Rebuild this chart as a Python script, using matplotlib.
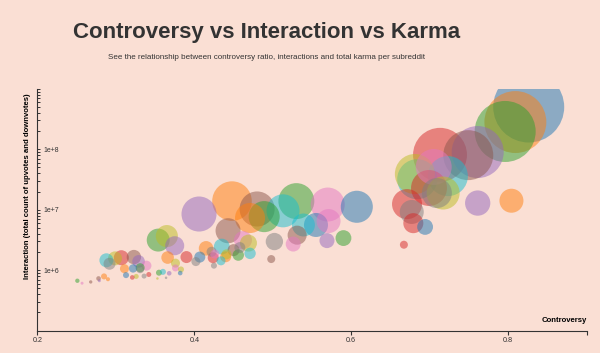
import matplotlib
matplotlib.use("Agg")
import matplotlib.pyplot as plt
from matplotlib.ticker import FixedLocator, FuncFormatter
import numpy as np

plt.rcParams['font.family'] = ['Liberation Sans', 'DejaVu Sans']

# 每个气泡: 争议比例, 互动数, karma(百万), 颜色分组
controversy = [0.826, 0.809, 0.796, 0.761, 0.749, 0.713, 0.705, 0.681, 0.684, 0.723,
               0.699, 0.709, 0.717, 0.761, 0.804, 0.671, 0.677, 0.679, 0.694, 0.667,
               0.607, 0.530, 0.570, 0.513, 0.489, 0.539, 0.555, 0.571, 0.531, 0.526,
               0.502, 0.569, 0.590, 0.498, 0.406, 0.448, 0.480, 0.471, 0.443, 0.462,
               0.469, 0.435, 0.415, 0.422, 0.407, 0.402, 0.390, 0.424, 0.425, 0.434,
               0.440, 0.441, 0.456, 0.450, 0.458, 0.471, 0.426,
               0.354, 0.365, 0.375, 0.366, 0.288, 0.292, 0.299, 0.307, 0.323, 0.329,
               0.339, 0.311, 0.322, 0.331, 0.331, 0.313, 0.326, 0.321, 0.336, 0.342,
               0.251, 0.257, 0.268, 0.278, 0.279, 0.285, 0.290, 0.355, 0.360, 0.353,
               0.364, 0.368, 0.376, 0.383, 0.382, 0.376]
interaction = [5.0e8, 2.82e8, 1.97e8, 9.0e7, 8.0e7, 8.1e7, 5.1e7, 3.9e7, 3.2e7, 3.6e7,
               2.29e7, 1.89e7, 1.89e7, 1.29e7, 1.41e7, 1.24e7, 9.2e6, 6.0e6, 5.2e6, 2.64e6,
               1.12e7, 1.39e7, 1.22e7, 9.6e6, 7.7e6, 5.6e6, 5.6e6, 6.5e6, 3.8e6, 2.71e6,
               2.98e6, 3.09e6, 3.4e6, 1.53e6, 8.5e6, 1.39e7, 1.03e7, 7.3e6, 4.5e6, 3.15e6,
               2.81e6, 2.46e6, 2.30e6, 2.02e6, 1.65e6, 1.39e6, 1.65e6, 1.61e6, 1.19e6, 1.43e6,
               1.67e6, 1.83e6, 1.78e6, 2.15e6, 2.37e6, 1.9e6, 1.85e6,
               3.15e6, 3.67e6, 2.54e6, 1.62e6, 1.46e6, 1.28e6, 1.57e6, 1.61e6, 1.65e6, 1.40e6,
               1.19e6, 1.06e6, 1.07e6, 1.10e6, 1.04e6, 8.3e5, 7.9e5, 7.6e5, 8.0e5, 8.5e5,
               6.7e5, 6.1e5, 6.4e5, 7.3e5, 6.7e5, 7.9e5, 7.1e5, 9.1e5, 9.4e5, 7.3e5,
               7.5e5, 8.9e5, 1.09e6, 1.03e6, 8.97e5, 1.31e6]
karma = [40.2, 30.6, 29.7, 21.6, 19.9, 23.2, 10.3, 12.8, 12.8, 12.8,
         10.3, 7.2, 8.7, 5.1, 4.6, 7.2, 4.6, 3.2, 2.0, 0.51,
         8.2, 10.3, 9.2, 8.7, 7.7, 4.2, 4.6, 4.6, 2.9, 1.8,
         2.4, 1.8, 2.0, 0.51, 9.8, 12.5, 9.8, 7.2, 5.0, 2.6,
         2.3, 2.0, 1.7, 0.8, 0.97, 0.65, 1.15, 0.96, 0.29, 0.65,
         0.96, 0.8, 1.04, 1.15, 0.96, 1.04, 0.65,
         4.2, 3.9, 2.9, 1.27, 1.56, 1.15, 1.56, 1.8, 1.65, 1.27,
         0.8, 0.65, 0.56, 0.65, 0.51, 0.29, 0.2, 0.17, 0.2, 0.2,
         0.15, 0.07, 0.09, 0.17, 0.07, 0.29, 0.13, 0.29, 0.29, 0.05,
         0.05, 0.17, 0.39, 0.29, 0.17, 0.65]
# 0 blue 1 orange 2 green 3 red 4 purple 5 brown 6 pink 7 gray 8 olive 9 cyan
group = [0, 1, 2, 4, 5, 3, 6, 8, 9, 9,
         3, 7, 8, 4, 1, 3, 7, 3, 0, 3,
         0, 2, 6, 9, 2, 9, 0, 6, 5, 6,
         7, 4, 2, 5, 4, 1, 5, 1, 5, 6,
         8, 9, 1, 7, 0, 7, 3, 3, 7, 9,
         1, 8, 2, 5, 7, 9, 6,
         2, 8, 4, 1, 9, 7, 8, 3, 5, 4,
         6, 1, 0, 2, 7, 0, 8, 3, 7, 3,
         2, 6, 5, 5, 4, 1, 1, 2, 9, 8,
         7, 4, 6, 8, 0, 8]

bg = '#fadfd4'
palette = plt.get_cmap('tab10').colors

# 大的先画, 小的在上面
order = np.argsort(karma)[::-1]
x = np.array(controversy)[order]
y = np.array(interaction)[order]
s = np.array(karma)[order] * 65
c = [palette[group[i]] for i in order]

fig = plt.figure(figsize=(6, 3.53), dpi=100, facecolor=bg)
ax = fig.add_axes([0.0622, 0.0632, 0.9158, 0.6852])
ax.set_facecolor(bg)

ax.scatter(x, y, s=s, c=c, alpha=0.5, linewidths=0)

ax.set_xlim(0.2, 0.9)
ax.set_yscale('log')
ax.set_ylim(1e5, 1e9)

for side in ['top', 'right']:
    ax.spines[side].set_visible(False)
for side in ['left', 'bottom']:
    ax.spines[side].set_color('#333333')
    ax.spines[side].set_linewidth(0.8)

# x轴刻度
ax.set_xticks([0.2, 0.4, 0.6, 0.8, 0.9])
ax.set_xticklabels(['0.2', '0.4', '0.6', '0.8', ''])
ax.tick_params(axis='x', direction='out', length=2.7, width=0.8, pad=1.5,
               labelsize=5.2, colors='#333333')

# y轴刻度 (对数)
ax.yaxis.set_major_locator(FixedLocator([1e5, 1e6, 1e7, 1e8, 1e9]))
minor = [m * 10 ** e for e in range(5, 9) for m in range(2, 10)]
ax.yaxis.set_minor_locator(FixedLocator(minor))
ax.yaxis.set_major_formatter(FuncFormatter(
    lambda v, p: '1e+%d' % round(np.log10(v)) if 1e6 <= v <= 1e8 else ''))
ax.yaxis.set_minor_formatter(FuncFormatter(lambda v, p: ''))
ax.tick_params(axis='y', which='both', direction='in', length=2.4, width=0.7,
               colors='#333333')
ax.tick_params(axis='y', which='major', pad=-4.1, labelsize=5.0)
for lab in ax.get_yticklabels():
    lab.set_horizontalalignment('left')

# 标题
fig.text(0.444, 0.893, 'Controversy vs Interaction vs Karma', ha='center',
         va='baseline', fontsize=16, fontweight='bold', color='#333333')
fig.text(0.444, 0.832, 'See the relationship between controversy ratio, interactions '
         'and total karma per subreddit', ha='center', va='baseline',
         fontsize=5.8, color='#333333')

fig.text(27.5 / 600, 1 - 186 / 353, 'Interaction (total count of upvotes and downvotes)',
         rotation=90, ha='center', va='center', fontsize=5.6, fontweight='bold')
fig.text(587 / 600, 1 - 321 / 353, 'Controversy', ha='right', va='center',
         fontsize=5.6, fontweight='bold')

plt.savefig('out.png', dpi=100, facecolor=bg)
